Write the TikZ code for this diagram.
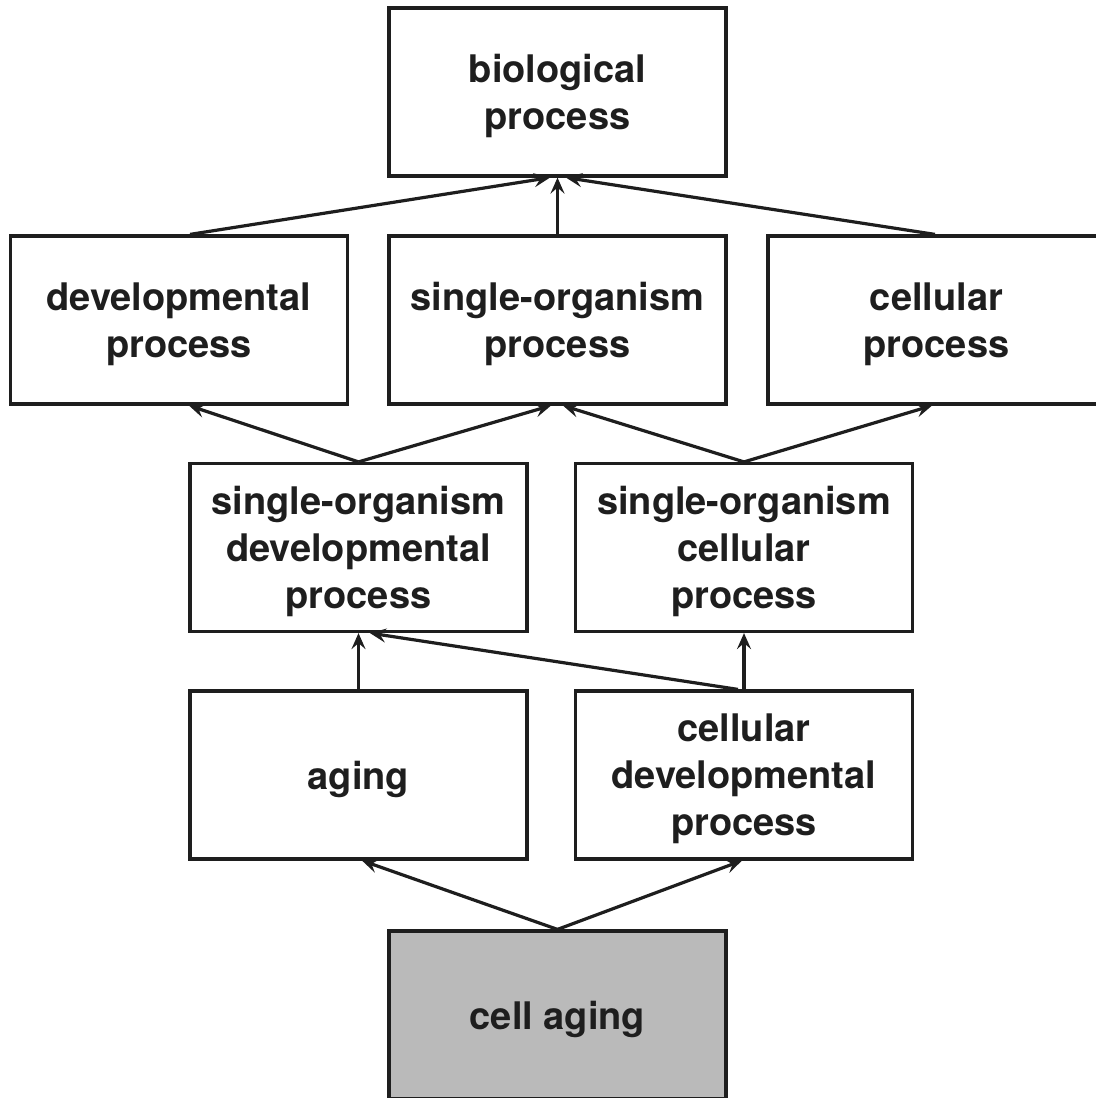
\documentclass[tikz,border=0pt]{standalone}
\usepackage{fontspec}
\setmainfont{TeX Gyre Heros}
\usetikzlibrary{arrows.meta,calc}
\definecolor{cellgray}{RGB}{186,186,186}
\definecolor{ink}{RGB}{30,30,30}
\tikzset{
  box/.style={draw=ink, line width=1.6pt, fill=white, minimum width=168.5pt, minimum height=84pt,
    inner sep=0pt, align=center, text=ink, text depth=-1pt, font=\fontsize{19}{23.5}\selectfont\bfseries},
  arr/.style={draw=ink, line width=1.6pt, -{Stealth[length=8pt,width=7pt,inset=3pt]}}
}
\begin{document}
\begin{tikzpicture}[x=0.5pt,y=-0.5pt]
\path[use as bounding box] (0,0) rectangle (1096,1098);
\clip (0,0) rectangle (1096,1098);
\fill[white] (0,0) rectangle (1096,1098);
\node[box] (bio) at (557.5,92) {biological\\process};
\node[box] (dev) at (179,320) {developmental\\process};
\node[box] (so) at (557.5,320) {single-organism\\process};
\node[box] (cel) at (936.5,320) {cellular\\process};
\node[box] (sod) at (358.5,547.5) {single-organism\\developmental\\process};
\node[box] (soc) at (744,547.5) {single-organism\\cellular\\process};
\node[box] (aging) at (358.5,775) {aging};
\node[box] (cdev) at (744,775) {cellular\\developmental\\process};
\node[box, fill=cellgray] (cage) at (557.5,1015) {cell aging};
\draw[arr] ($(dev.north)+(11,0)$) -- ($(bio.south)+(-7.5,0)$);
\draw[arr] (so.north) -- (bio.south);
\draw[arr] ($(cel.north)+(-1.5,0)$) -- ($(bio.south)+(8.5,0)$);
\draw[arr] (sod.north) -- ($(dev.south)+(10,0)$);
\draw[arr] (sod.north) -- ($(so.south)+(-6.5,0)$);
\draw[arr] (soc.north) -- ($(so.south)+(5.5,0)$);
\draw[arr] (soc.north) -- ($(cel.south)+(-4.5,0)$);
\draw[arr] (aging.north) -- (sod.south);
\draw[arr] (cdev.north) -- (soc.south);
\draw[arr] ($(cdev.north)+(-6,0)$) -- ($(sod.south)+(11.5,0)$);
\draw[arr] (cage.north) -- ($(aging.south)+(3.5,0)$);
\draw[arr] (cage.north) -- ($(cdev.south)+(-2,0)$);
\end{tikzpicture}
\end{document}
